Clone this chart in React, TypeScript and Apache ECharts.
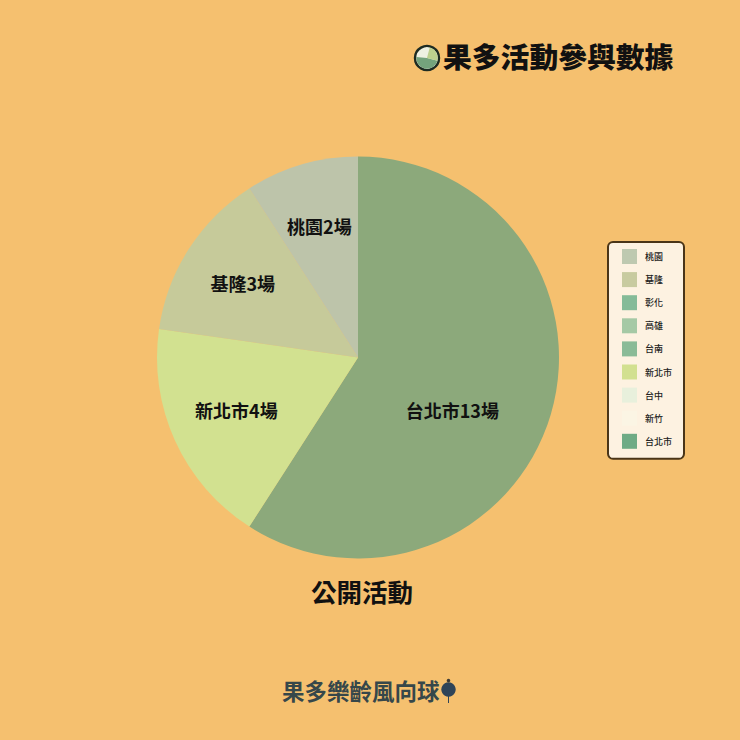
import React, { useEffect, useRef } from "react";
import * as echarts from "echarts";

const FONT = '"Noto Sans CJK TC", "Noto Sans", sans-serif';
const categories = ["台北市", "新竹", "台中", "新北市", "台南", "高雄", "彰化", "基隆", "桃園"];
const values = [13, 0, 0, 4, 0, 0, 0, 3, 2];
const sliceColors = ["#8CA97B", "#FBF5E4", "#E8F0DC", "#D2E190", "#8ABB97", "#A5C9A5", "#85BB98", "#C6CA9A", "#BDC4AA"];
const legendOrder = ["桃園", "基隆", "彰化", "高雄", "台南", "新北市", "台中", "新竹", "台北市"];
const legendColors = ["#BEC9B0", "#C8CBA0", "#85BB98", "#A5C9A5", "#8ABB97", "#D2E090", "#E8F0DC", "#FBF5E4", "#6FAB85"];
const R = 201;
const LABEL_R = 134;

export default function App() {
  const ref = useRef<HTMLDivElement>(null);
  useEffect(() => {
    document.body.style.margin = "0";
    const chart = echarts.init(ref.current!, null, { renderer: "svg" });
    const total = values.reduce((a, b) => a + b, 0);
    const mids: number[] = [];
    let acc = 0;
    values.forEach((v) => {
      mids.push(((acc + v / 2) / total) * Math.PI * 2);
      acc += v;
    });
    chart.setOption({
      animation: false,
      backgroundColor: "#F5C06F",
      title: [
        { text: "果多活動參與數據", left: 443, top: 41, padding: 0, textStyle: { fontFamily: FONT, fontSize: 28.8, fontWeight: 900, color: "#111" } },
        { text: "公開活動", left: 311, top: 578, padding: 0, textStyle: { fontFamily: FONT, fontSize: 25.5, fontWeight: 700, color: "#111" } },
        { text: "果多樂齡風向球", left: 282, top: 679, padding: 0, textStyle: { fontFamily: FONT, fontSize: 22.5, fontWeight: 700, color: "#36474A" } },
      ],
      legend: {
        orient: "vertical",
        left: 608,
        top: 242,
        padding: [7, 12, 10, 14],
        backgroundColor: "#FDF2E1",
        borderColor: "#4A3518",
        borderWidth: 2,
        borderRadius: 5,
        itemWidth: 15,
        itemHeight: 15,
        itemGap: 8.1,
        selectedMode: false,
        textStyle: { fontFamily: FONT, fontSize: 9, fontWeight: 500, color: "#222", padding: [0, 0, 0, 3] },
        data: legendOrder.map((name, i) => ({ name, icon: "rect", itemStyle: { color: legendColors[i] } })),
      },
      series: [
        {
          type: "pie",
          center: [358, 357.5],
          radius: [0, R],
          startAngle: 90,
          clockwise: true,
          silent: true,
          stillShowZeroSum: true,
          label: {
            show: true,
            position: "inside",
            fontFamily: FONT,
            fontSize: 18,
            fontWeight: 700,
            color: "#111",
            formatter: (p: any) => (p.value > 0 ? `${p.name}${p.value}場` : ""),
          },
          labelLine: { show: false },
          labelLayout: (p: any) => {
            const a = mids[p.dataIndex];
            const k = LABEL_R - R / 2;
            if (p.dataIndex === 0) {
              return { dx: -5, dy: 23 };
            }
            if (p.dataIndex === 3) {
              return { dx: Math.sin(a) * k + 3, dy: -Math.cos(a) * k - 4 };
            }
            return { dx: Math.sin(a) * k, dy: -Math.cos(a) * k };
          },
          data: categories.map((name, i) => ({ name, value: values[i], itemStyle: { color: sliceColors[i] } })),
        },
      ],
      graphic: [
        { type: "circle", shape: { cx: 427, cy: 58, r: 12 }, style: { fill: "#EEF1E2", stroke: "#1D2B22", lineWidth: 2.4 } },
        { type: "sector", shape: { cx: 427, cy: 58, r: 10.8, r0: 0, startAngle: Math.PI * 0.08, endAngle: Math.PI * 1.03 }, style: { fill: "#74A37C" } },
        { type: "sector", shape: { cx: 427, cy: 58, r: 10.8, r0: 0, startAngle: -Math.PI * 0.42, endAngle: Math.PI * 0.08 }, style: { fill: "#BCD08E" } },
        { type: "circle", shape: { cx: 448.5, cy: 689.5, r: 7.2 }, style: { fill: "#2F4458" } },
        { type: "circle", shape: { cx: 448.5, cy: 680.5, r: 1.8 }, style: { fill: "#3E3A34" } },
        { type: "line", shape: { x1: 448.5, y1: 696, x2: 448.5, y2: 703 }, style: { stroke: "#2F4458", lineWidth: 1 } },
      ],
    });
    return () => chart.dispose();
  }, []);
  return <div ref={ref} style={{ position: "fixed", left: 0, top: 0, width: 740, height: 740 }} />;
}
